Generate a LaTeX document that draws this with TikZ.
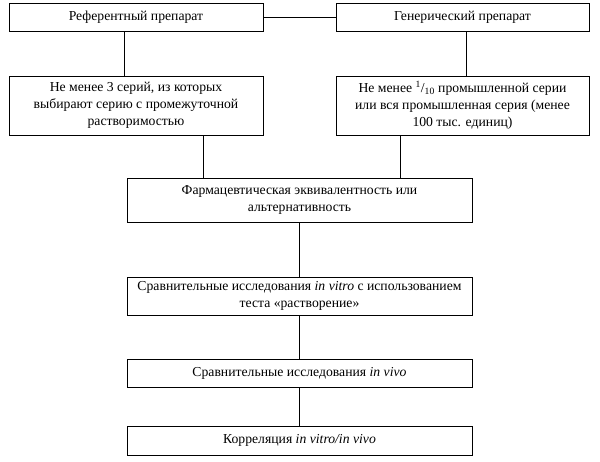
\documentclass[tikz,border=0pt]{standalone}
\usepackage{fontspec}
\setmainfont{Liberation Serif}
\begin{document}
\begin{tikzpicture}[x=1pt,y=-1pt,
  box/.style={draw,line width=0.8pt,inner sep=0pt,align=center,font=\fontsize{13.7}{17}\selectfont},
  conn/.style={line width=0.8pt}]
\useasboundingbox (0,0) rectangle (600,461);
\fill[white] (0,0) rectangle (600,461);
\node[box,minimum width=254pt,minimum height=28pt] (ref) at (136,17.5) {Референтный препарат};
\node[box,minimum width=253pt,minimum height=28pt] (gen) at (462.5,17.5) {Генерический препарат};
\node[box,minimum width=254pt,minimum height=59pt] (s3) at (136,105.5) {Не менее 3 серий, из которых\\выбирают серию с промежуточной\\растворимостью};
\node[box,minimum width=253pt,minimum height=59pt] (s10) at (462.5,105.5) {Не менее \textsuperscript{1}/\textsubscript{10} промышленной серии\\или вся промышленная серия (менее\\100 тыс. единиц)};
\node[box,minimum width=345pt,minimum height=44pt] (eq) at (299.5,200) {Фармацевтическая эквивалентность или\\альтернативность};
\node[box,minimum width=345pt,minimum height=38pt] (vitro) at (299.5,296) {Сравнительные исследования \textit{in vitro} с использованием\\теста «растворение»};
\node[box,minimum width=345pt,minimum height=28pt] (vivo) at (299.5,373) {Сравнительные исследования \textit{in vivo}};
\node[box,minimum width=345pt,minimum height=29pt] (corr) at (299.5,440.5) {Корреляция \textit{in vitro/in vivo}};
\draw[conn] (ref.east) -- (gen.west);
\draw[conn] (ref.south -| 124,0) -- (s3.north -| 124,0);
\draw[conn] (gen.south -| 466,0) -- (s10.north -| 466,0);
\draw[conn] (s3.south -| 203,0) -- (eq.north -| 203,0);
\draw[conn] (s10.south -| 400,0) -- (eq.north -| 400,0);
\draw[conn] (eq.south) -- (vitro.north);
\draw[conn] (vitro.south) -- (vivo.north);
\draw[conn] (vivo.south) -- (corr.north);
\end{tikzpicture}
\end{document}
